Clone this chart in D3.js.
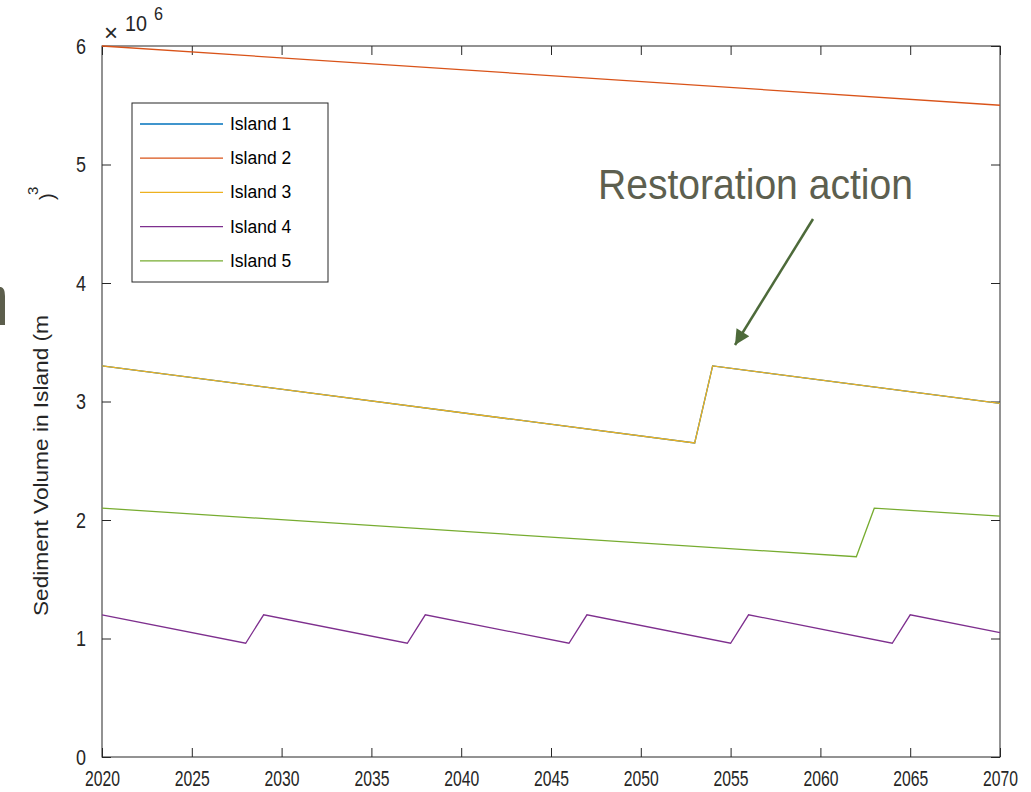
<!DOCTYPE html>
<html>
<head>
<meta charset="utf-8">
<script src="https://cdn.jsdelivr.net/npm/d3@7"></script>
<style>
  html, body { margin: 0; padding: 0; background: #fff; overflow: hidden; }
  svg { display: block; }
  text { font-family: "Liberation Sans", Arial, Helvetica, sans-serif; }
</style>
</head>
<body>
<div id="chart"></div>
<script>
// breakpoints of each series (year, volume in 1e6 m3)
const island1Years = [2020, 2053, 2054, 2070];
const island1Values = [3.3, 2.65, 3.3, 2.985];
const island2Years = [2020, 2070];
const island2Values = [6.0, 5.5];
const island3Years = [2020, 2053, 2054, 2070];
const island3Values = [3.3, 2.65, 3.3, 2.985];
const island4Years = [2020, 2028, 2029, 2037, 2038, 2046, 2047, 2055, 2056, 2064, 2065, 2070];
const island4Values = [1.2, 0.96, 1.2, 0.96, 1.2, 0.96, 1.2, 0.96, 1.2, 0.96, 1.2, 1.05];
const island5Years = [2020, 2062, 2063, 2070];
const island5Values = [2.1, 1.69, 2.1, 2.032];

const seriesNames = ["Island 1", "Island 2", "Island 3", "Island 4", "Island 5"];
const seriesColors = ["#0072BD", "#D95319", "#EDB120", "#7E2F8E", "#77AC30"];
const xTicks = [2020, 2025, 2030, 2035, 2040, 2045, 2050, 2055, 2060, 2065, 2070];
const yTicks = [0, 1, 2, 3, 4, 5, 6];

const series = [
    [island1Years, island1Values],
    [island2Years, island2Values],
    [island3Years, island3Values],
    [island4Years, island4Values],
    [island5Years, island5Values]
].map(([ys, vs], i) => ({
    name: seriesNames[i],
    color: seriesColors[i],
    points: ys.map((y, j) => ({year: y, value: vs[j]}))
}));

const outerWidth = 1031, outerHeight = 792;
const margin = {left: 102, right: 31, top: 46, bottom: 35};
const innerWidth = outerWidth - (margin.left + margin.right);
const innerHeight = outerHeight - (margin.top + margin.bottom);

const x = d3.scaleLinear().domain([2020, 2070]).range([0, innerWidth]);
const y = d3.scaleLinear().domain([0, 6]).range([innerHeight, 0]);

const svg = d3.select("#chart").append("svg")
    .attr("width", outerWidth)
    .attr("height", outerHeight);

const g = svg.append("g")
    .attr("transform", "translate(" + margin.left + "," + margin.top + ")");

const axisColor = "#262626";
const tickLen = 9;

// axes with inward ticks; labels look tall and narrow in the original
const styleAxis = sel => {
    sel.attr("font-size", 22);
    sel.select(".domain").remove();
    sel.selectAll("line").attr("stroke", axisColor);
    sel.selectAll("text").attr("fill", axisColor).attr("font-size", 22);
};

g.append("g")
    .attr("transform", "translate(0," + innerHeight + ")")
    .call(d3.axisBottom(x).tickValues(xTicks).tickFormat(d3.format("d"))
        .tickSizeInner(-tickLen).tickSizeOuter(0).tickPadding(13))
    .call(styleAxis)
    .selectAll("text")
    .attr("textLength", 35).attr("lengthAdjust", "spacingAndGlyphs");

g.append("g")
    .call(d3.axisTop(x).tickValues(xTicks)
        .tickSizeInner(-tickLen).tickSizeOuter(0))
    .call(styleAxis)
    .selectAll("text").remove();

g.append("g")
    .call(d3.axisLeft(y).tickValues(yTicks).tickFormat(d3.format("d"))
        .tickSizeInner(-tickLen).tickSizeOuter(0).tickPadding(16))
    .call(styleAxis)
    .selectAll("text")
    .attr("textLength", 10).attr("lengthAdjust", "spacingAndGlyphs");

g.append("g")
    .attr("transform", "translate(" + innerWidth + ",0)")
    .call(d3.axisRight(y).tickValues(yTicks)
        .tickSizeInner(-tickLen).tickSizeOuter(0))
    .call(styleAxis)
    .selectAll("text").remove();

g.append("rect")
    .attr("width", innerWidth)
    .attr("height", innerHeight)
    .attr("fill", "none")
    .attr("stroke", axisColor)
    .attr("stroke-width", 1);

// lines
const line = d3.line().x(d => x(d.year)).y(d => y(d.value));

g.selectAll(".series")
    .data(series)
    .enter().append("path")
    .attr("class", "series")
    .attr("d", d => line(d.points))
    .attr("fill", "none")
    .attr("stroke", d => d.color)
    .attr("stroke-width", 1.3);

// exponent label
svg.append("text").text("\u00D7").attr("x", 104).attr("y", 41)
    .attr("fill", axisColor).attr("font-size", 24);
svg.append("text").text("10").attr("x", 125).attr("y", 31)
    .attr("textLength", 22).attr("lengthAdjust", "spacingAndGlyphs")
    .attr("fill", axisColor).attr("font-size", 22);
svg.append("text").text("6").attr("x", 154).attr("y", 20)
    .attr("textLength", 9).attr("lengthAdjust", "spacingAndGlyphs")
    .attr("fill", axisColor).attr("font-size", 18);

// y label (superscript got displaced in the original)
svg.append("text").text("Sediment Volume in Island (m")
    .attr("transform", "translate(48,616) rotate(-90)")
    .attr("textLength", 301).attr("lengthAdjust", "spacingAndGlyphs")
    .attr("fill", axisColor).attr("font-size", 21);
svg.append("text").text("3")
    .attr("transform", "translate(38,195) rotate(-90)")
    .attr("fill", axisColor).attr("font-size", 15);
svg.append("text").text(")")
    .attr("transform", "translate(54,200) rotate(-90)")
    .attr("fill", axisColor).attr("font-size", 20);

// legend
const legend = svg.append("g").attr("transform", "translate(132,103)");
legend.append("rect")
    .attr("width", 196).attr("height", 179)
    .attr("fill", "#fff").attr("stroke", axisColor).attr("stroke-width", 1);

const rows = legend.selectAll(".row")
    .data(series)
    .enter().append("g")
    .attr("transform", (d, i) => "translate(0," + (21 + i * 34.2) + ")");
rows.append("line")
    .attr("x1", 8).attr("x2", 91)
    .attr("stroke", d => d.color).attr("stroke-width", 1.3);
rows.append("text")
    .text(d => d.name)
    .attr("x", 98).attr("y", 6)
    .attr("fill", "#000").attr("font-size", 17.5);

// annotation
svg.append("text").text("Restoration action")
    .attr("x", 598).attr("y", 199)
    .attr("textLength", 315).attr("lengthAdjust", "spacingAndGlyphs")
    .attr("fill", "#5d5f4f").attr("font-size", 43);

svg.append("defs").append("marker")
    .attr("id", "arrow")
    .attr("viewBox", "0 0 10 10")
    .attr("refX", 10).attr("refY", 5)
    .attr("markerWidth", 7).attr("markerHeight", 6)
    .attr("markerUnits", "strokeWidth")
    .attr("orient", "auto")
    .append("path").attr("d", "M0,0 L10,5 L0,10 Z").attr("fill", "#4d6a3a");

svg.append("line")
    .attr("x1", 813).attr("y1", 219).attr("x2", 735).attr("y2", 345)
    .attr("stroke", "#4d6a3a").attr("stroke-width", 2.5)
    .attr("marker-end", "url(#arrow)");

// cropped glyph at the left edge
svg.append("path")
    .attr("d", "M0,287 L1,287 Q5,288 5,296 L5,325 L0,325 Z")
    .attr("fill", "#5c5e4c");
</script>
</body>
</html>
